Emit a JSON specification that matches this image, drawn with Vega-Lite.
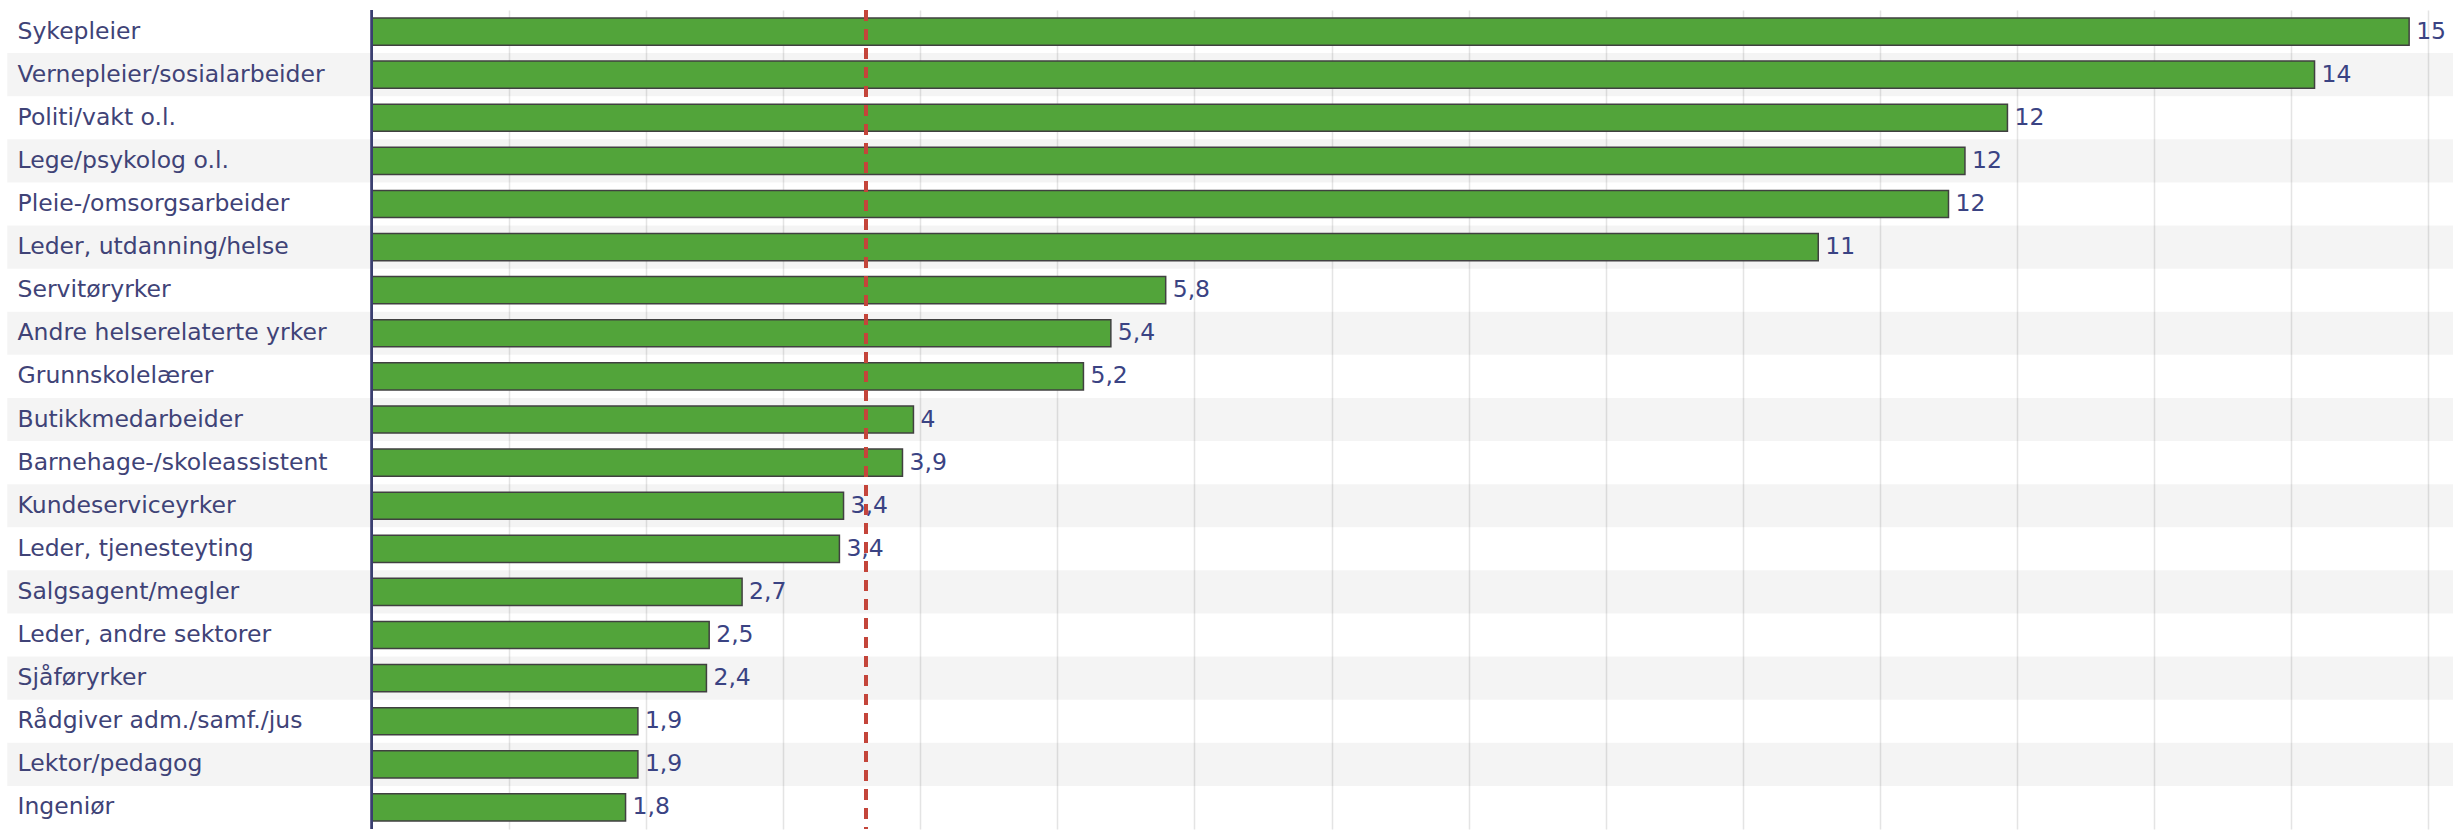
{
  "$schema": "https://vega.github.io/schema/vega-lite/v6.json",
  "width": 2453,
  "height": 833,
  "autosize": {"type": "fit", "contains": "padding"},
  "padding": {"top": 8, "bottom": 2, "left": 0, "right": 0},
  "background": "white",
  "config": {"view": {"stroke": null}},
  "data": {"values": [
    {"yrke": "Sykepleier", "andel": 14.86, "tekst": "15"},
    {"yrke": "Vernepleier/sosialarbeider", "andel": 14.17, "tekst": "14"},
    {"yrke": "Politi/vakt o.l.", "andel": 11.93, "tekst": "12"},
    {"yrke": "Lege/psykolog o.l.", "andel": 11.62, "tekst": "12"},
    {"yrke": "Pleie-/omsorgsarbeider", "andel": 11.5, "tekst": "12"},
    {"yrke": "Leder, utdanning/helse", "andel": 10.55, "tekst": "11"},
    {"yrke": "Servitøryrker", "andel": 5.79, "tekst": "5,8"},
    {"yrke": "Andre helserelaterte yrker", "andel": 5.39, "tekst": "5,4"},
    {"yrke": "Grunnskolelærer", "andel": 5.19, "tekst": "5,2"},
    {"yrke": "Butikkmedarbeider", "andel": 3.95, "tekst": "4"},
    {"yrke": "Barnehage-/skoleassistent", "andel": 3.87, "tekst": "3,9"},
    {"yrke": "Kundeserviceyrker", "andel": 3.44, "tekst": "3,4"},
    {"yrke": "Leder, tjenesteyting", "andel": 3.41, "tekst": "3,4"},
    {"yrke": "Salgsagent/megler", "andel": 2.7, "tekst": "2,7"},
    {"yrke": "Leder, andre sektorer", "andel": 2.46, "tekst": "2,5"},
    {"yrke": "Sjåføryrker", "andel": 2.44, "tekst": "2,4"},
    {"yrke": "Rådgiver adm./samf./jus", "andel": 1.94, "tekst": "1,9"},
    {"yrke": "Lektor/pedagog", "andel": 1.94, "tekst": "1,9"},
    {"yrke": "Ingeniør", "andel": 1.85, "tekst": "1,8"}
  ]},
  "encoding": {
    "y": {"field": "yrke", "type": "nominal", "axis": null,
          "sort": ["Sykepleier", "Vernepleier/sosialarbeider", "Politi/vakt o.l.", "Lege/psykolog o.l.", "Pleie-/omsorgsarbeider", "Leder, utdanning/helse", "Servitøryrker", "Andre helserelaterte yrker", "Grunnskolelærer", "Butikkmedarbeider", "Barnehage-/skoleassistent", "Kundeserviceyrker", "Leder, tjenesteyting", "Salgsagent/megler", "Leder, andre sektorer", "Sjåføryrker", "Rådgiver adm./samf./jus", "Lektor/pedagog", "Ingeniør"],
          "scale": {"paddingInner": 0, "paddingOuter": 0}}
  },
  "layer": [
    {
      "transform": [
        {"window": [{"op": "row_number", "as": "rn"}]},
        {"filter": "datum.rn % 2 == 0"}
      ],
      "mark": {"type": "bar", "fill": "#000000", "opacity": 0.045},
      "encoding": {
        "x": {"datum": -2.66, "type": "quantitative",
              "scale": {"domain": [-2.713, 15.18], "nice": false, "zero": false},
              "axis": {"grid": true, "values": [1,2,3,4,5,6,7,8,9,10,11,12,13,14,15],
                       "labels": false, "ticks": false, "domain": false, "title": null,
                       "gridColor": "#e4e4e4", "gridWidth": 1.5}},
        "x2": {"datum": 15.18}
      }
    },
    {
      "mark": {"type": "bar", "fill": "#52a43a", "stroke": "#404040", "strokeWidth": 1.5,
               "height": {"band": 0.63}},
      "encoding": {
        "x": {"field": "andel", "type": "quantitative"},
        "x2": {"datum": 0}
      }
    },
    {
      "mark": {"type": "rule", "color": "#3a3f70", "strokeWidth": 2},
      "encoding": {"x": {"datum": 0, "type": "quantitative"}, "y": null}
    },
    {
      "mark": {"type": "rule", "color": "#c4453b", "strokeWidth": 3, "strokeDash": [11, 8]},
      "encoding": {"x": {"datum": 3.605, "type": "quantitative"}, "y": null}
    },
    {
      "mark": {"type": "text", "align": "left", "baseline": "middle", "dx": 7,
               "font": "DejaVu Sans", "fontSize": 23.5, "fill": "#3a4383"},
      "encoding": {
        "x": {"field": "andel", "type": "quantitative"},
        "text": {"field": "tekst"}
      }
    },
    {
      "mark": {"type": "text", "align": "left", "baseline": "middle",
               "font": "DejaVu Sans", "fontSize": 23.5, "fill": "#3f4377"},
      "encoding": {
        "x": {"datum": -2.585, "type": "quantitative"},
        "text": {"field": "yrke"}
      }
    }
  ]
}
